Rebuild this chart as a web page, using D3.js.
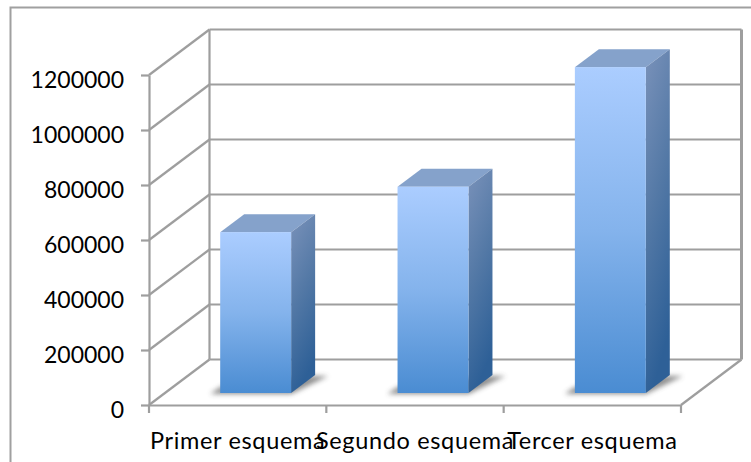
<!DOCTYPE html>
<html><head><meta charset="utf-8">
<script src="https://cdn.jsdelivr.net/npm/d3@7"></script>
<style>html,body{margin:0;padding:0;background:#fff;overflow:hidden}svg{display:block}
text{font-family:Lato,sans-serif;fill:#000}</style></head><body>
<script>
const categories = ["Primer esquema","Segundo esquema","Tercer esquema"];
const values = [585000,750000,1185000];
const yTicks = [0,200000,400000,600000,800000,1000000,1200000];

const W=751,H=462, plotL=149, plotR=681, plotT=75, plotB=405;
const wallDx=60.5, wallDy=-45.5, barDx=18, barDy=-12, depthX=24, depthY=-18;
const gridCol="#9e9e9e";
const svg=d3.select("body").append("svg").attr("width",W).attr("height",H);
const y=d3.scaleLinear().domain([0,1200000]).range([plotB,plotT]);
const x=d3.scaleBand().domain(categories).range([plotL,plotR]).paddingInner(0.6).paddingOuter(0.3);
const xb=d3.scaleBand().domain(categories).range([plotL,plotR]);

const defs=svg.append("defs");
const fg=defs.append("linearGradient").attr("id","front").attr("x1",0).attr("y1",0).attr("x2",0).attr("y2",1);
[[0,"#abcdff"],[0.5,"#84b3ec"],[1,"#4a8cd2"]].forEach(s=>fg.append("stop").attr("offset",s[0]).attr("stop-color",s[1]));
const sg=defs.append("linearGradient").attr("id","side").attr("x1",0).attr("y1",0).attr("x2",0.25).attr("y2",1);
[[0,"#7a92ba"],[0.5,"#5479a6"],[1,"#2e6097"]].forEach(s=>sg.append("stop").attr("offset",s[0]).attr("stop-color",s[1]));
defs.append("filter").attr("id","blur").attr("x","-20%").attr("y","-40%").attr("width","140%").attr("height","180%")
  .append("feGaussianBlur").attr("stdDeviation",2.4);

// outer frame
svg.append("path").attr("d",`M10.5,${H}V7.5H${W}`).attr("fill","none").attr("stroke","#a0a0a0").attr("stroke-width",2);

const line=(g,x1,y1,x2,y2)=>g.append("line").attr("x1",x1).attr("y1",y1).attr("x2",x2).attr("y2",y2)
  .attr("stroke",gridCol).attr("stroke-width",2.2);

// walls and grid
const grid=svg.append("g");
yTicks.forEach(t=>{
  line(grid,plotL,y(t),plotL+wallDx,y(t)+wallDy);
  line(grid,plotL+wallDx,y(t)+wallDy,plotR+wallDx,y(t)+wallDy);
});
line(grid,plotL+wallDx,y(0)+wallDy,plotL+wallDx,y(1200000)+wallDy);
line(grid,plotR+wallDx,y(0)+wallDy,plotR+wallDx,y(1200000)+wallDy).attr("stroke-width",3);
line(grid,plotR,y(0),plotR+wallDx,y(0)+wallDy);

// bars
const bars=svg.append("g").selectAll("g").data(categories).join("g");
const bx=d=>x(d)+barDx, bw=x.bandwidth();
const base=y(0)+barDy;
const barTop=(d,i)=>y(values[i])+barDy;
bars.append("path").attr("filter","url(#blur)").attr("fill","#444").attr("opacity",0.6)
  .attr("d",d=>`M${bx(d)-10},${base+1}H${bx(d)+bw}L${bx(d)+bw+depthX+13},${base+depthY+1}H${bx(d)+bw+depthX-4}L${bx(d)},${base-6}Z`);
bars.append("path").attr("fill","#85a2cb")
  .attr("d",(d,i)=>`M${bx(d)},${barTop(d,i)}l${depthX},${depthY}h${bw}l${-depthX},${-depthY}Z`);
bars.append("path").attr("fill","url(#side)")
  .attr("d",(d,i)=>`M${bx(d)+bw},${barTop(d,i)}l${depthX},${depthY}V${base+depthY}l${-depthX},${-depthY}Z`);
bars.append("rect").attr("fill","url(#front)")
  .attr("x",d=>bx(d)).attr("y",(d,i)=>barTop(d,i)).attr("width",bw).attr("height",(d,i)=>base-barTop(d,i));

// axes
const axY=svg.append("g").attr("transform",`translate(${plotL},0)`)
  .call(d3.axisLeft(y).tickValues(yTicks).tickFormat(d3.format("d")).tickSize(8).tickSizeOuter(0).tickPadding(17));
const axX=svg.append("g").attr("transform",`translate(0,${plotB})`)
  .call(d3.axisBottom(xb).tickSize(0).tickPadding(27));
[axY,axX].forEach(a=>{a.selectAll("path.domain").attr("stroke",gridCol).attr("stroke-width",2.2);
  a.selectAll("line").attr("stroke",gridCol).attr("stroke-width",2.2);
  a.selectAll("text").attr("font-size",23).attr("font-family","Lato,sans-serif").attr("fill","#000");});
axY.selectAll("text").attr("dy","0.54em");
axX.selectAll("text").attr("font-size",23.5).attr("dy","0.74em").attr("letter-spacing",0.65);
const edges=[plotL,...categories.map(c=>xb(c)+xb.bandwidth())];
edges.forEach(e=>axX.append("line").attr("x1",e).attr("x2",e).attr("y1",0).attr("y2",8).attr("stroke",gridCol).attr("stroke-width",2.2));
</script></body></html>
